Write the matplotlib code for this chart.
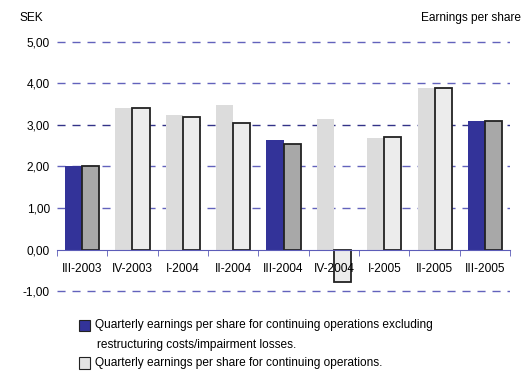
import numpy as np
import matplotlib
matplotlib.use('Agg')
import matplotlib.pyplot as plt
from matplotlib.patches import Rectangle
from matplotlib.ticker import FuncFormatter, MultipleLocator

plt.rcParams['font.family'] = ['Liberation Sans', 'DejaVu Sans']

quarters = ['III-2003', 'IV-2003', 'I-2004', 'II-2004', 'III-2004',
            'IV-2004', 'I-2005', 'II-2005', 'III-2005']
eps_excl = [2.00, 3.40, 3.24, 3.48, 2.63, 3.14, 2.68, 3.89, 3.09]
eps_cont = [2.00, 3.40, 3.19, 3.04, 2.54, -0.77, 2.70, 3.89, 3.09]

blue = '#333399'
fs = 8.6
x = np.arange(len(quarters))
w = 0.34

# third quarters are highlighted
q3 = [q.startswith('III-') for q in quarters]
left_cols = [blue if h else '#dcdcdc' for h in q3]
right_cols = ['#a8a8a8' if h else '#ececec' for h in q3]

fig = plt.figure(figsize=(5.26, 3.72), dpi=100)
ax = fig.add_axes([0.108, 0.212, 0.862, 0.681])

ax.bar(x - w / 2, eps_excl, width=w, color=left_cols, zorder=3)
ax.bar(x + w / 2, eps_cont, width=w, color=right_cols,
       edgecolor='#222222', linewidth=1.3, zorder=3)

ax.set_xlim(-0.5, len(quarters) - 0.5)
ax.set_ylim(-1.05, 5.05)

for v in [-1, 1, 2, 3, 4, 5]:
    c = '#333388' if v == 3 else '#6262bc'
    ax.axhline(v, color=c, lw=1.0, ls=(0, (5.8, 5)), zorder=1)

for s in ['top', 'right', 'left']:
    ax.spines[s].set_visible(False)
ax.spines['bottom'].set_position(('data', 0))
ax.spines['bottom'].set_color('#5c5cb8')
ax.spines['bottom'].set_zorder(4)
ax.xaxis.set_zorder(5)

ax.set_xticks(x)
ax.set_xticklabels(quarters)
ax.set_xticks(np.arange(len(quarters) + 1) - 0.5, minor=True)
ax.tick_params(axis='x', which='major', length=0, pad=10, labelsize=fs)
ax.tick_params(axis='x', which='minor', length=4, color='#5c5cb8', direction='out')

ax.yaxis.set_major_locator(MultipleLocator(1))
ax.yaxis.set_major_formatter(FuncFormatter(lambda v, p: f'{v:.2f}'.replace('.', ',')))
ax.tick_params(axis='y', length=0, pad=5, labelsize=fs)

fig.text(0.038, 0.952, 'SEK', fontsize=fs, va='center')
fig.text(0.99, 0.952, 'Earnings per share', fontsize=fs, ha='right', va='center')

# legend drawn by hand
fig.patches.append(Rectangle((0.150, 0.110), 0.021, 0.030, transform=fig.transFigure,
                             facecolor=blue, edgecolor='#222222', lw=0.8))
fig.patches.append(Rectangle((0.150, 0.009), 0.021, 0.030, transform=fig.transFigure,
                             facecolor='#e4e4e4', edgecolor='#222222', lw=0.8))
fig.text(0.181, 0.126, 'Quarterly earnings per share for continuing operations excluding',
         fontsize=fs, va='center')
fig.text(0.185, 0.073, 'restructuring costs/impairment losses.', fontsize=fs, va='center')
fig.text(0.181, 0.024, 'Quarterly earnings per share for continuing operations.',
         fontsize=fs, va='center')

fig.savefig('out.png', dpi=100)
